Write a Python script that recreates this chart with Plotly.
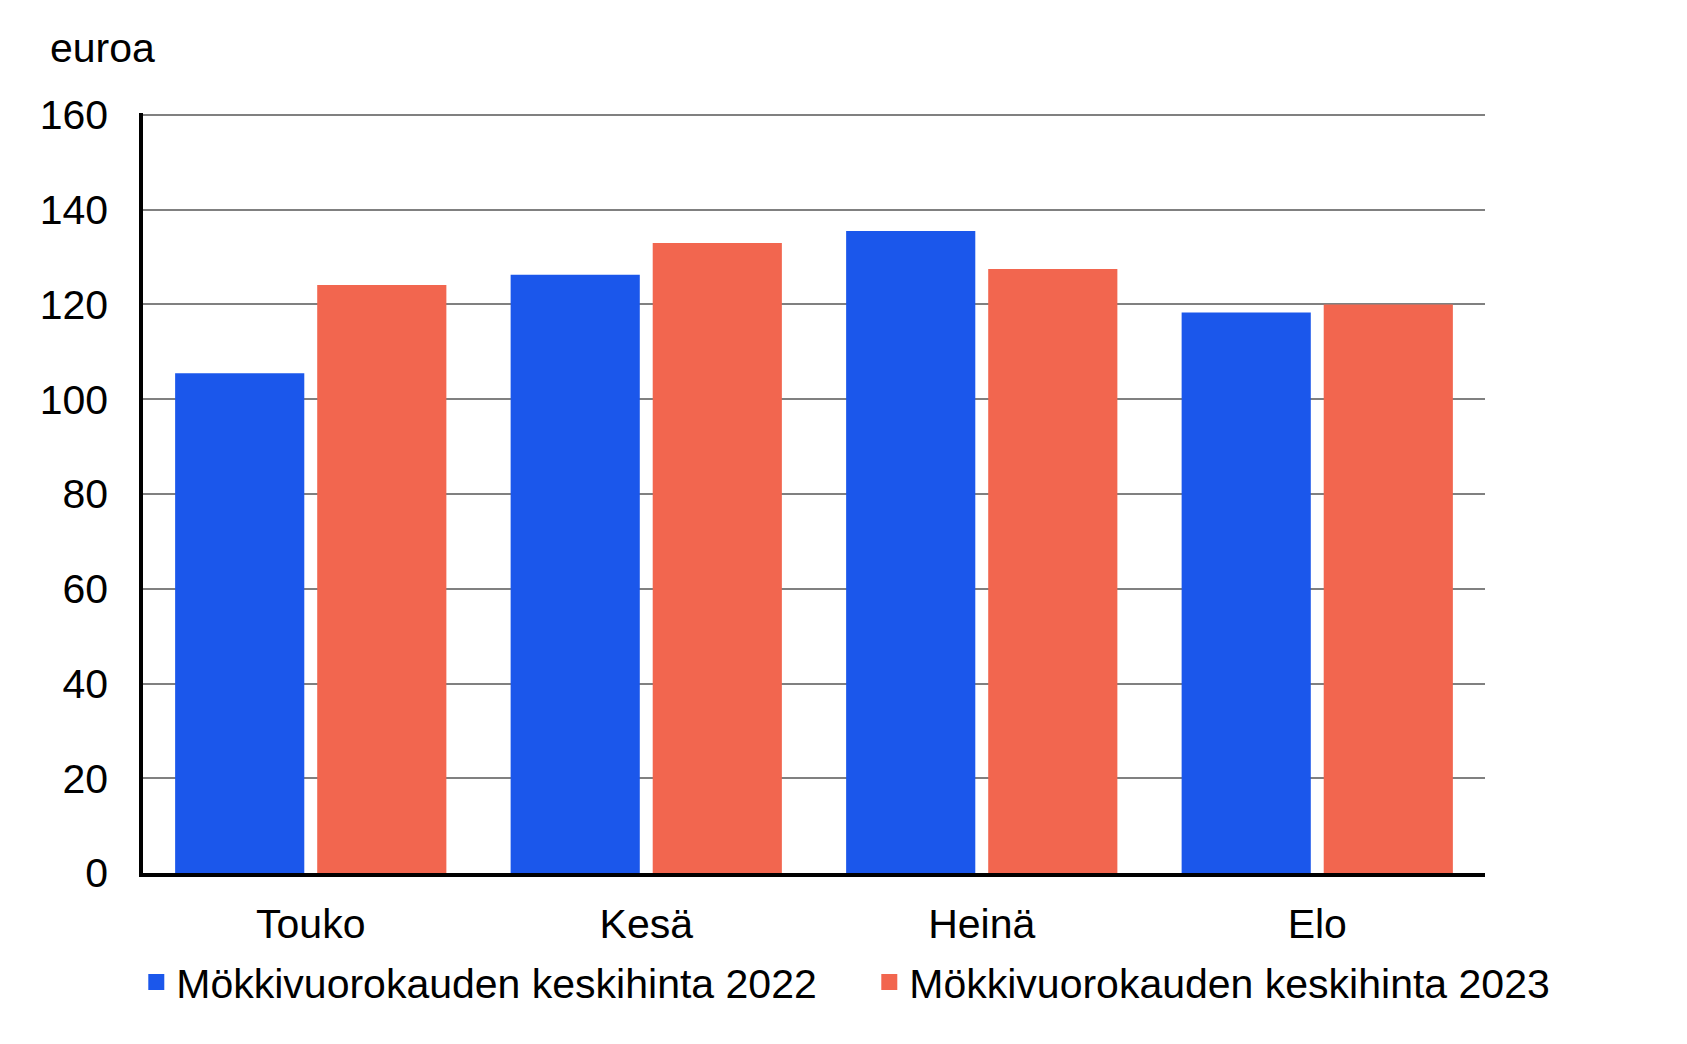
import plotly.graph_objects as go

categories = ["Touko", "Kesä", "Heinä", "Elo"]
values_2022 = [105.5, 126.3, 135.5, 118.3]
values_2023 = [124.1, 133.0, 127.5, 120.0]
series_names = ["Mökkivuorokauden keskihinta 2022", "Mökkivuorokauden keskihinta 2023"]
y_ticks = [0, 20, 40, 60, 80, 100, 120, 140, 160]

BLUE = "#1B57EB"
RED = "#F2664F"
FONT = "Liberation Sans, Arial, sans-serif"
FS = 41

fig = go.Figure()
fig.add_trace(go.Bar(x=categories, y=values_2022, marker_color=BLUE, marker_line_width=0,
                     showlegend=False, name=series_names[0]))
fig.add_trace(go.Bar(x=categories, y=values_2023, marker_color=RED, marker_line_width=0,
                     showlegend=False, name=series_names[1]))
# legend entries with square swatches
for name, col in zip(series_names, [BLUE, RED]):
    fig.add_trace(go.Scatter(x=[None], y=[None], mode="markers", name=name,
                             marker=dict(symbol="square", size=16, color=col)))

fig.update_layout(
    width=1687, height=1044,
    margin=dict(l=143, r=202, t=113, b=171),
    paper_bgcolor="white", plot_bgcolor="white",
    font=dict(family=FONT, size=FS, color="black"),
    barmode="group", bargap=0.153, bargroupgap=0.091,
    legend=dict(orientation="h", x=-0.005, xanchor="left", y=-0.1438, yanchor="middle",
                font=dict(size=FS), entrywidth=688, entrywidthmode="pixels",
                bgcolor="rgba(0,0,0,0)", tracegroupgap=0),
    annotations=[dict(text="euroa", xref="paper", yref="paper", x=-0.0706, y=1.085,
                      xanchor="left", yanchor="middle", showarrow=False,
                      font=dict(size=FS, family=FONT, color="black"))],
)
fig.update_yaxes(range=[0, 160.42], tickvals=y_ticks, showgrid=True, gridcolor="#808080",
                 gridwidth=1.5, showline=True, linecolor="black", linewidth=3.5,
                 ticks="", ticklabelstandoff=23, zeroline=False, fixedrange=True)
fig.update_xaxes(showline=True, linecolor="black", linewidth=3.5, ticks="",
                 ticklabelstandoff=12, fixedrange=True)

fig.write_html("out.html")
